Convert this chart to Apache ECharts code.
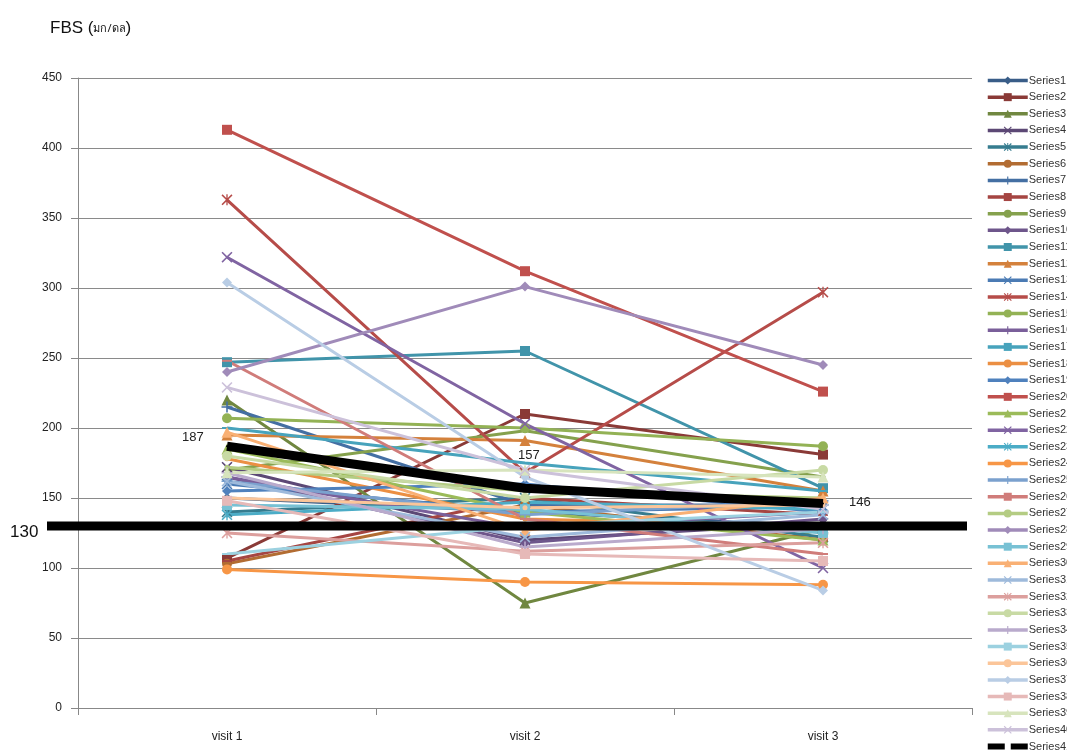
<!DOCTYPE html>
<html>
<head>
<meta charset="utf-8">
<title>FBS</title>
<script src="https://cdn.jsdelivr.net/npm/echarts@6/dist/echarts.min.js"></script>
<style>
  html, body { margin: 0; padding: 0; background: #fff; }
  #chart { width: 1067px; height: 755px; }
</style>
</head>
<body>
<div id="chart"></div>
<script>
// Visit categories and axis ticks
const visits = ['visit 1', 'visit 2', 'visit 3'];
const yTicks = { min: 0, max: 450, step: 50 };
const targetLevel = 130;

// Fasting blood sugar per patient (mg/dL) at each visit
const s1  = [150, 140, 130];
const s2  = [107, 210, 181];
const s3  = [220, 75, 128];
const s4  = [172, 120, 132];
const s5  = [140, 150, 122];
const s6  = [103, 145, 120];
const s7  = [215, 145, 145];
const s8  = [105, 150, 138];
const s9  = [170, 198, 165];
const s10 = [165, 118, 135];
const s11 = [247, 255, 157];
const s12 = [195, 191, 155];
const s13 = [160, 140, 144];
const s14 = [363, 168, 297];
const s15 = [207, 200, 187];
const s16 = [165, 128, 140];
const s17 = [200, 175, 155];
const s18 = [178, 135, 130];
const s19 = [155, 160, 140];
const s20 = [413, 312, 226];
const s21 = [185, 140, 120];
const s22 = [322, 203, 100];
const s23 = [138, 147, 142];
const s24 = [99, 90, 88];
const s25 = [162, 138, 148];
const s26 = [248, 135, 110];
const s27 = [172, 155, 150];
const s28 = [240, 301, 245];
const s29 = [145, 142, 125];
const s30 = [197, 127, 150];
const s31 = [162, 122, 138];
const s32 = [125, 112, 118];
const s33 = [180, 150, 170];
const s34 = [168, 115, 128];
const s35 = [110, 130, 140];
const s36 = [150, 143, 145];
const s37 = [304, 165, 84];
const s38 = [148, 110, 105];
const s39 = [168, 170, 165];
const s40 = [229, 170, 142];
// Group mean
const s41 = [187, 157, 146];

const patients = [s1, s2, s3, s4, s5, s6, s7, s8, s9, s10,
  s11, s12, s13, s14, s15, s16, s17, s18, s19, s20,
  s21, s22, s23, s24, s25, s26, s27, s28, s29, s30,
  s31, s32, s33, s34, s35, s36, s37, s38, s39, s40];

// Office-style palette: six hues, shaded from dark to light per cycle
const palette = [
  '#395D88', '#8A3A37', '#708740', '#5C4875', '#367C8F', '#B26C32',
  '#446FA3', '#A54542', '#85A14D', '#6E568B', '#4194AA', '#D4813C',
  '#4B7BB4', '#B64C49', '#93B255', '#7A5F9A', '#47A3BC', '#EB8F43',
  '#4F81BD', '#C0504D', '#9BBB59', '#8064A2', '#4BACC6', '#F79646',
  '#7BA1CE', '#D07C7A', '#B4CC83', '#A08BB9', '#78C1D4', '#F9B074',
  '#9EBADB', '#DC9F9D', '#C8DAA4', '#B9AACC', '#9CD1E0', '#FBC599',
  '#B9CDE5', '#E6B9B8', '#D7E4BD', '#CCC1DA'
];

// Marker cycle: diamond, square, triangle, x, star, circle, plus, dash, dot
const markers = [
  { s: 'diamond', size: 10 },
  { s: 'rect', size: 10 },
  { s: 'triangle', size: 11 },
  { s: 'path://M0,1L1,0L5,4L9,0L10,1L6,5L10,9L9,10L5,6L1,10L0,9L4,5Z', size: 11 },
  { s: 'path://M0,1L1,0L5,4L9,0L10,1L6,5L10,9L9,10L5,6L1,10L0,9L4,5Z M4.4,0H5.6V10H4.4Z', size: 11 },
  { s: 'circle', size: 10 },
  { s: 'path://M4.3,0H5.7V4.3H10V5.7H5.7V10H4.3V5.7H0V4.3H4.3Z', size: 11 },
  { s: 'path://M0,4H10V6H0Z', size: 10 },
  { s: 'circle', size: 5 }
];

const fontFamily = '"Liberation Sans", Arial, sans-serif';

const series = patients.map((vals, i) => {
  const m = markers[i % markers.length];
  return {
    name: 'Series' + (i + 1),
    type: 'line',
    data: vals,
    symbol: m.s,
    symbolSize: m.size,
    symbolKeepAspect: true,
    showSymbol: true,
    lineStyle: { width: 3, color: palette[i] },
    itemStyle: { color: palette[i] },
    emphasis: { disabled: true },
    animation: false
  };
});

// Mean value labels: left of visit 1, above visit 2, right of visit 3
const meanPlacement = [
  { position: [-44, -14] },
  { position: [-6, -38] },
  { position: [27, -7] }
];

series.push({
  name: 'Series41',
  type: 'line',
  data: s41.map((v, k) => ({
    value: v,
    label: Object.assign({
      show: true,
      color: '#222',
      fontSize: 13,
      fontFamily: fontFamily,
      align: 'left',
      verticalAlign: 'top'
    }, meanPlacement[k])
  })),
  symbol: 'circle',
  symbolSize: 2,
  showSymbol: true,
  lineStyle: { width: 9, color: '#000' },
  itemStyle: { color: '#000' },
  z: 5,
  labelLayout: { hideOverlap: false },
  emphasis: { disabled: true },
  animation: false
});

// Legend entries; the mean gets a split thick bar as its key
const legendData = series.map(s => s.name === 'Series41'
  ? { name: s.name, icon: 'path://M0,2H17V8H0Z M23,2H40V8H23Z' }
  : { name: s.name });

const chart = echarts.init(document.getElementById('chart'), null, { renderer: 'canvas' });

chart.setOption({
  animation: false,
  backgroundColor: '#fff',
  title: {
    left: 45,
    top: 15,
    text: '{a|FBS (}{b|มก/ดล}{a|)}',
    textStyle: {
      fontWeight: 'normal',
      rich: {
        a: { fontSize: 17, color: '#111', fontWeight: 'normal', fontFamily: fontFamily },
        b: { fontSize: 11, color: '#111', fontWeight: 'normal', fontFamily: '"Noto Sans", "DejaVu Sans", sans-serif' }
      }
    }
  },
  grid: { left: 78, right: 95, top: 78, bottom: 47 },
  legend: {
    orient: 'vertical',
    left: 986,
    top: 75,
    padding: 0,
    itemWidth: 40,
    itemHeight: 10,
    itemGap: 5.65,
    selectedMode: false,
    data: legendData,
    lineStyle: { width: 3.5 },
    textStyle: { fontSize: 11, lineHeight: 10, color: '#333', fontFamily: fontFamily, padding: [0, 0, 0, -4] }
  },
  xAxis: {
    type: 'category',
    data: visits,
    boundaryGap: true,
    axisLine: { show: true, lineStyle: { color: '#888', width: 1 } },
    axisTick: { show: true, length: 7, lineStyle: { color: '#888' } },
    axisLabel: { color: '#222', fontSize: 12, margin: 23, fontFamily: fontFamily },
    splitLine: { show: false }
  },
  yAxis: {
    type: 'value',
    min: yTicks.min,
    max: yTicks.max,
    interval: yTicks.step,
    axisLine: { show: true, lineStyle: { color: '#888', width: 1 } },
    axisTick: { show: true, length: 7, lineStyle: { color: '#888' } },
    axisLabel: { color: '#222', fontSize: 12, margin: 16, fontFamily: fontFamily },
    splitLine: { show: true, lineStyle: { color: '#8a8a8a', width: 1 } }
  },
  series: series
});

// Target level line across the plot with its value on the left
const yTarget = chart.convertToPixel({ yAxisIndex: 0 }, targetLevel);
chart.setOption({
  graphic: [
    {
      type: 'rect',
      shape: { x: 47, y: yTarget - 4.5, width: 920, height: 9 },
      style: { fill: '#000' },
      z: 100
    },
    {
      type: 'text',
      x: 10,
      y: yTarget + 6,
      style: {
        text: String(targetLevel),
        fontSize: 17,
        fill: '#111',
        fontFamily: fontFamily,
        textVerticalAlign: 'middle'
      },
      z: 100
    }
  ]
});
</script>
</body>
</html>
